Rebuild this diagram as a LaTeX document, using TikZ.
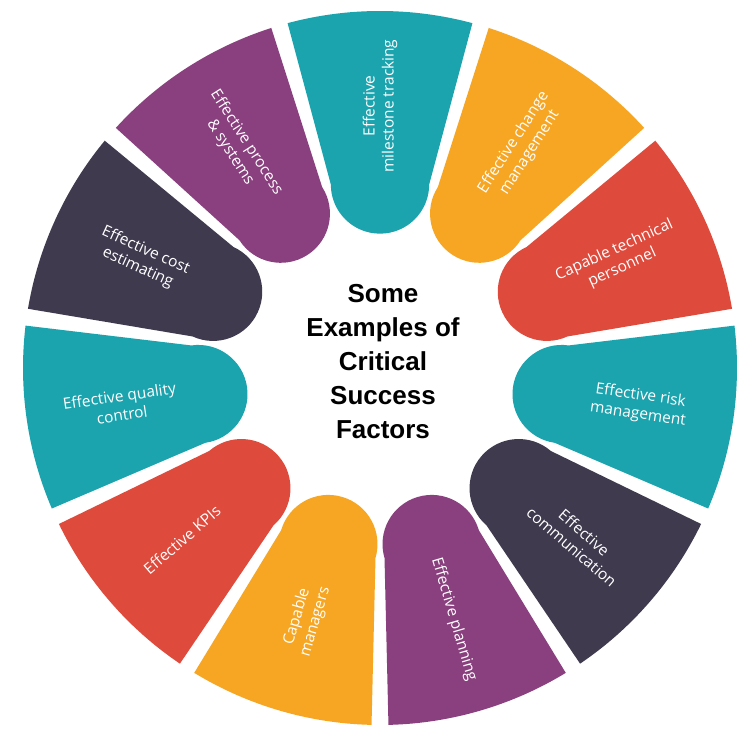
\documentclass[tikz,border=0pt]{standalone}
\usepackage{fontspec}
\setmainfont{Open Sans}
\newfontfamily\titlefont{Liberation Sans}
\definecolor{cteal}{HTML}{1BA3AE}
\definecolor{corange}{HTML}{F6A623}
\definecolor{cred}{HTML}{DE4A3C}
\definecolor{cdark}{HTML}{403A4F}
\definecolor{cpurple}{HTML}{8A3F7E}
\begin{document}
\begin{tikzpicture}[x=1pt,y=1pt,
  seglabel/.style={text=white,align=center,inner sep=1pt,font=\fontsize{15.5}{19}\selectfont}]
\useasboundingbox (-380,-377) rectangle (371,368);
\fill[white] (-380,-377) rectangle (371,368);
\def\R{357}\def\ri{190}\def\h{15.0}
\foreach \ang/\col/\txt/\nm [count=\i] in {
  90/cteal/{Effective\\milestone tracking}/s1,
  57.27/corange/{Effective change\\management}/s2,
  24.55/cred/{Capable technical\\personnel}/s3,
  -8.18/cteal/{Effective risk\\management}/s4,
  -40.91/cdark/{Effective\\communication}/s5,
  -73.64/cpurple/{Effective planning}/s6,
  -106.36/corange/{Capable\\managers}/s7,
  -139.09/cred/{Effective KPIs}/s8,
  -171.82/cteal/{Effective quality\\control}/s9,
  155.45/cdark/{Effective cost\\estimating}/s10,
  122.73/cpurple/{Effective process\\\& systems}/s11}{
  \begin{scope}[rotate=\ang]
    \fill[\col] (-\h:\R) arc[start angle=-\h,end angle=\h,radius=\R]
      -- (\h:\ri) arc[start angle=90,end angle=270,radius={\ri*sin(\h)}] -- cycle;
  \end{scope}
  \pgfmathsetmacro\rot{(\ang>90.5||\ang<-90.5)?\ang+180:\ang}
  \node[seglabel,rotate=\rot] (\nm) at (\ang:262) {\txt};
}
\node[font=\titlefont\bfseries\fontsize{26}{34}\selectfont,align=center] (title) at (3,6)
  {Some\\Examples of\\Critical\\Success\\Factors};
\end{tikzpicture}
\end{document}
